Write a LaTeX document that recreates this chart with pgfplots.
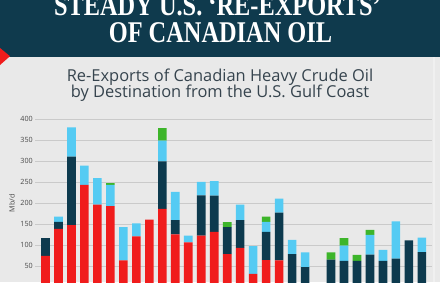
\documentclass[border=0pt]{standalone}
\usepackage{fontspec}
\usepackage{pgfplots}
\usepackage{pgfplotstable}
\pgfplotsset{compat=1.18}
\newfontfamily\sans{Open Sans}
\newfontfamily\titlefont{Liberation Serif}
\definecolor{bg}{HTML}{E9E9E9}
\definecolor{band}{HTML}{0F3A4D}
\definecolor{cred}{HTML}{F01C1C}
\definecolor{cnavy}{HTML}{0D3A4E}
\definecolor{clb}{HTML}{55CBF3}
\definecolor{cgreen}{HTML}{3DB52A}
\definecolor{subc}{HTML}{36444E}
\definecolor{gridc}{HTML}{CACACA}
\definecolor{tickc}{HTML}{474747}

\pgfplotstableread{
k red navy lb green
0 75 42 0 0
1 139 17 12 0
2 148 163 70 0
3 244 0 46 0
4 197 0 63 0
5 193 0 51 4
6 64 0 79 0
7 121 0 31 0
8 161 0 0 0
9 187 113 49 30
10 126 34 67 0
11 107 0 16 0
12 123 96 32 0
13 132 86 35 0
14 79 64 0 12
15 94 66 37 0
16 32 0 66 0
17 65 67 24 12
18 64 114 33 0
19 0 79 34 0
20 0 48 35 0
21 0 0 0 0
22 0 66 0 17
23 0 63 36 18
24 0 63 0 14
25 0 78 47 12
26 0 63 26 0
27 0 68 89 0
28 0 112 0 0
29 0 84 34 0
}\datatable

\begin{document}
\begin{tikzpicture}[x=1bp,y=1bp]
\useasboundingbox (0,0) rectangle (440,282);
\clip (0,0) rectangle (440,282);
\fill[bg] (0,0) rectangle (440,282);
\fill[white, opacity=0.35] (432.5,0) rectangle (434.5,226);
\fill[band] (0,225.5) rectangle (440,282);
\fill[cred] (0,234) -- (10,225.8) -- (0,217) -- cycle;
\node[anchor=base, text=white, inner sep=0pt] at (217.5,267)
  {\scalebox{0.81}[1]{\titlefont\bfseries\fontsize{30.2}{32}\selectfont STEADY U.S. ‘RE-EXPORTS’}};
\node[anchor=base, text=white, inner sep=0pt] at (220.5,239.3)
  {\scalebox{0.81}[1]{\titlefont\bfseries\fontsize{30.2}{32}\selectfont OF CANADIAN OIL}};
\node[anchor=base, text=subc, inner sep=0pt] at (220,200.3)
  {\sans\fontsize{16.5}{18}\selectfont Re-Exports of Canadian Heavy Crude Oil};
\node[anchor=base, text=subc, inner sep=0pt] at (220,184.3)
  {\sans\fontsize{16.5}{18}\selectfont by Destination from the U.S. Gulf Coast};
\begin{axis}[
  at={(35bp,-5.3bp)}, anchor=south west,
  scale only axis, width=397bp, height=168bp,
  xmin=-0.81, xmax=29.78, ymin=0, ymax=400,
  ybar stacked, bar width=8.6bp,
  ytick={50,100,...,400}, xtick=\empty,
  ymajorgrids, grid style={gridc, line width=0.8bp},
  axis line style={draw=none}, major tick length=0pt,
  /pgf/number format/assume math mode=true,
  yticklabel style={font=\sans\fontsize{7.2}{9}\selectfont, text=tickc, inner sep=0pt, xshift=-2bp},
  ylabel={Mb/d},
  ylabel style={font=\sans\fontsize{7.2}{9}\selectfont, text=tickc, at={(axis description cs:-0.058,0.5)}, anchor=center},
  clip=false,
]
\addplot[fill=cred, draw=none] table[x=k, y=red] {\datatable};
\addplot[fill=cnavy, draw=none] table[x=k, y=navy] {\datatable};
\addplot[fill=clb, draw=none] table[x=k, y=lb] {\datatable};
\addplot[fill=cgreen, draw=none] table[x=k, y=green] {\datatable};
\end{axis}
\end{tikzpicture}
\end{document}
